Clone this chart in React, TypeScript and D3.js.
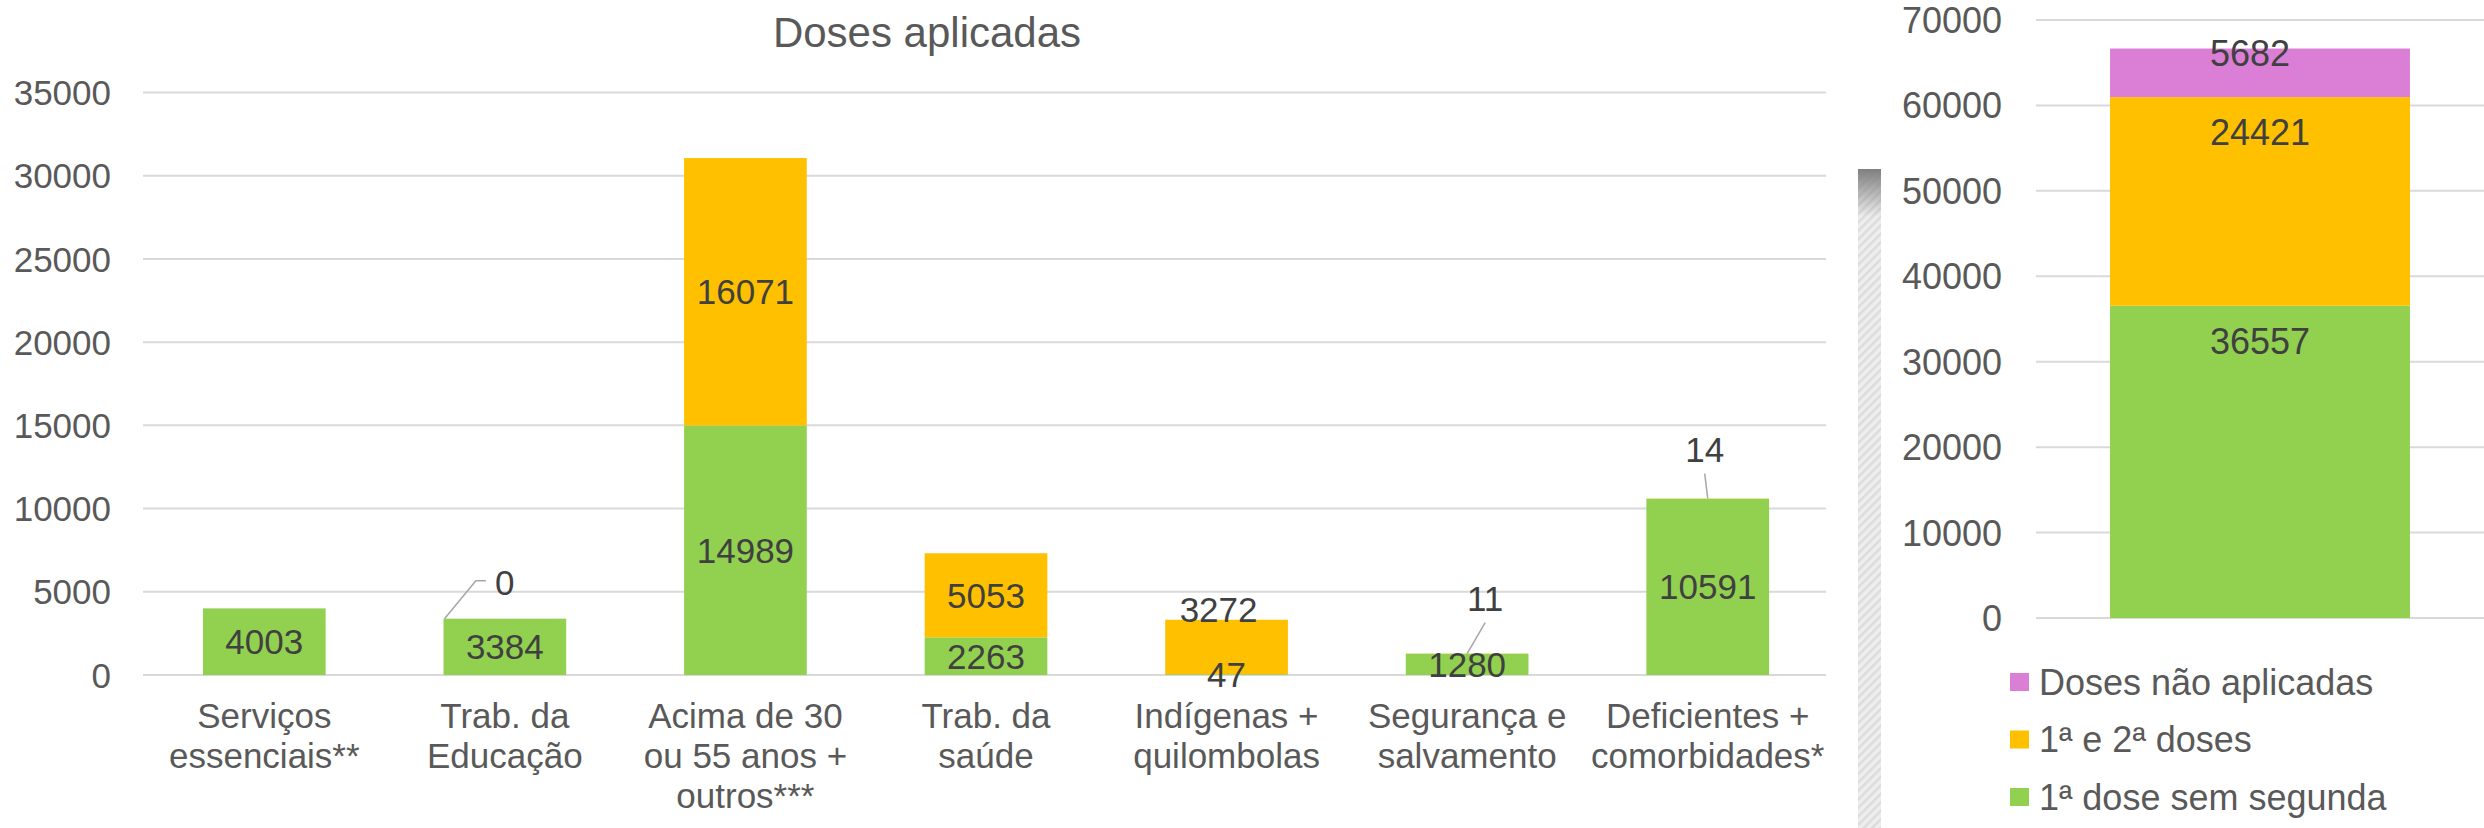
import React, { useEffect, useRef } from 'react';
import * as d3 from 'd3';

// left chart: doses per group
const categories = [
  "Serviços\nessenciais**",
  "Trab. da\nEducação",
  "Acima de 30\nou 55 anos +\noutros***",
  "Trab. da\nsaúde",
  "Indígenas +\nquilombolas",
  "Segurança e\nsalvamento",
  "Deficientes +\ncomorbidades*",
];
const firstDoseOnly = [4003, 3384, 14989, 2263, 47, 1280, 10591];
const bothDoses: (number | null)[] = [null, 0, 16071, 5053, 3272, 11, 14];
const leftTicks = [0, 5000, 10000, 15000, 20000, 25000, 30000, 35000];

// right chart: totals
const totalSeries = ["1ª dose sem segunda", "1ª e 2ª doses", "Doses não aplicadas"];
const totalValues = [36557, 24421, 5682];
const rightTicks = [0, 10000, 20000, 30000, 40000, 50000, 60000, 70000];

const GREEN = "#92D050";
const YELLOW = "#FFC000";
const PINK = "#DA7FD5";
const GRID = "#D9D9D9";
const AXIS_TEXT = "#595959";
const LABEL_TEXT = "#404040";
const FONT = "'Liberation Sans', Arial, sans-serif";

// manually moved labels of the "1ª e 2ª doses" series (px from bar centre / stack top)
const yellowCallouts: Record<number, { dx: number; dy: number; leader?: "left" | "center" }> = {
  1: { dx: 0, dy: -36, leader: "left" },
  4: { dx: -8, dy: -10 },
  5: { dx: 18, dy: -55, leader: "center" },
  6: { dx: -3, dy: -49, leader: "center" },
};

const App: React.FC = () => {
  const ref = useRef<SVGSVGElement | null>(null);

  useEffect(() => {
    if (ref.current) draw();
  }, []);

  const draw = () => {
    const svg = d3.select(ref.current);
    svg.selectAll("*").remove();
    svg.attr("font-family", FONT);

    const defs = svg.append("defs");
    const hatch = defs.append("pattern")
      .attr("id", "hatch")
      .attr("patternUnits", "userSpaceOnUse")
      .attr("width", 6)
      .attr("height", 6)
      .attr("patternTransform", "rotate(-45)");
    hatch.append("rect").attr("width", 6).attr("height", 6).attr("fill", "#eeeeee");
    hatch.append("rect").attr("width", 6).attr("height", 2.5).attr("fill", "#dcdcdc");
    const grad = defs.append("linearGradient")
      .attr("id", "stripFade")
      .attr("x1", 0).attr("y1", 0).attr("x2", 0).attr("y2", 1);
    grad.append("stop").attr("offset", "0%").attr("stop-color", "#7f7f7f").attr("stop-opacity", 1);
    grad.append("stop").attr("offset", "100%").attr("stop-color", "#7f7f7f").attr("stop-opacity", 0);

    svg.append("rect").attr("width", 2484).attr("height", 828).attr("fill", "#ffffff");

    // ---------- left chart ----------
    const x = d3.scaleBand()
      .domain(categories)
      .range([144, 1828])
      .paddingInner(0.49)
      .paddingOuter(0.245);
    const y = d3.scaleLinear().domain([0, 35000]).range([675, 92.5]);

    const left = svg.append("g");

    left.append("g")
      .selectAll("line")
      .data(leftTicks)
      .join("line")
      .attr("x1", 143)
      .attr("x2", 1826)
      .attr("y1", d => y(d))
      .attr("y2", d => y(d))
      .attr("stroke", GRID)
      .attr("stroke-width", 2);

    left.append("g")
      .selectAll("text")
      .data(leftTicks)
      .join("text")
      .attr("x", 111)
      .attr("y", d => y(d))
      .attr("dy", "0.36em")
      .attr("text-anchor", "end")
      .attr("font-size", 35)
      .attr("fill", AXIS_TEXT)
      .text(d => String(d));

    left.append("text")
      .attr("x", 927)
      .attr("y", 47)
      .attr("text-anchor", "middle")
      .attr("font-size", 42)
      .attr("fill", AXIS_TEXT)
      .text("Doses aplicadas");

    const bw = x.bandwidth();

    left.append("g")
      .selectAll("rect")
      .data(categories)
      .join("rect")
      .attr("x", d => x(d) || 0)
      .attr("width", bw)
      .attr("y", (d, i) => y(firstDoseOnly[i]))
      .attr("height", (d, i) => y(0) - y(firstDoseOnly[i]))
      .attr("fill", GREEN);

    left.append("g")
      .selectAll("rect")
      .data(categories)
      .join("rect")
      .attr("x", d => x(d) || 0)
      .attr("width", bw)
      .attr("y", (d, i) => y(firstDoseOnly[i] + (bothDoses[i] || 0)))
      .attr("height", (d, i) => y(firstDoseOnly[i]) - y(firstDoseOnly[i] + (bothDoses[i] || 0)))
      .attr("fill", YELLOW);

    // green labels, centred in segment
    left.append("g")
      .selectAll("text")
      .data(categories)
      .join("text")
      .attr("x", d => (x(d) || 0) + bw / 2)
      .attr("y", (d, i) => y(firstDoseOnly[i] / 2))
      .attr("dy", "0.36em")
      .attr("text-anchor", "middle")
      .attr("font-size", 35)
      .attr("fill", LABEL_TEXT)
      .text((d, i) => String(firstDoseOnly[i]));

    // yellow labels
    const yl = left.append("g");
    categories.forEach((c, i) => {
      const v = bothDoses[i];
      if (v === null) return;
      const cx = (x(c) || 0) + bw / 2;
      const top = y(firstDoseOnly[i] + v);
      const co = yellowCallouts[i];
      let lx = cx;
      let ly = y(firstDoseOnly[i] + v / 2);
      if (co) {
        lx = cx + co.dx;
        ly = top + co.dy;
        if (co.leader === "left") {
          const x0 = (x(c) || 0) + 1;
          yl.append("polyline")
            .attr("points", `${x0},${top} ${lx - 29},${ly - 2} ${lx - 19},${ly - 2}`)
            .attr("fill", "none")
            .attr("stroke", "#A6A6A6")
            .attr("stroke-width", 1.5);
        } else if (co.leader === "center") {
          yl.append("line")
            .attr("x1", cx)
            .attr("y1", top)
            .attr("x2", lx)
            .attr("y2", ly + 24)
            .attr("stroke", "#A6A6A6")
            .attr("stroke-width", 1.5);
        }
      }
      yl.append("text")
        .attr("x", lx)
        .attr("y", ly)
        .attr("dy", "0.36em")
        .attr("text-anchor", "middle")
        .attr("font-size", 35)
        .attr("fill", LABEL_TEXT)
        .text(String(v));
    });

    // category labels
    const cl = left.append("g")
      .attr("font-size", 35)
      .attr("fill", AXIS_TEXT)
      .attr("text-anchor", "middle");
    categories.forEach(c => {
      const t = cl.append("text").attr("x", (x(c) || 0) + bw / 2).attr("y", 728);
      c.split("\n").forEach((line, k) => {
        t.append("tspan")
          .attr("x", (x(c) || 0) + bw / 2)
          .attr("dy", k === 0 ? 0 : 40)
          .text(line);
      });
    });

    // ---------- separator strip ----------
    svg.append("rect").attr("x", 1858).attr("y", 169).attr("width", 23).attr("height", 659).attr("fill", "url(#hatch)");
    svg.append("rect").attr("x", 1858).attr("y", 169).attr("width", 23).attr("height", 48).attr("fill", "url(#stripFade)");

    // ---------- right chart ----------
    const xr = d3.scaleBand().domain(["Total"]).range([2036, 2484]).padding(0.198);
    const yr = d3.scaleLinear().domain([0, 70000]).range([618, 20]);
    const right = svg.append("g");

    right.append("g")
      .selectAll("line")
      .data(rightTicks)
      .join("line")
      .attr("x1", 2036)
      .attr("x2", 2484)
      .attr("y1", d => yr(d))
      .attr("y2", d => yr(d))
      .attr("stroke", GRID)
      .attr("stroke-width", 2);

    right.append("g")
      .selectAll("text")
      .data(rightTicks)
      .join("text")
      .attr("x", 2002)
      .attr("y", d => yr(d))
      .attr("dy", "0.36em")
      .attr("text-anchor", "end")
      .attr("font-size", 36)
      .attr("fill", AXIS_TEXT)
      .text(d => String(d));

    const stack = d3.stack<number[]>()
      .keys(totalSeries.map((s, i) => String(i)))
      .value((row, key) => row[+key]);
    const layers = stack([totalValues]);
    const colors = [GREEN, YELLOW, PINK];
    const rbx = xr("Total") || 0;
    const rbw = xr.bandwidth();

    right.append("g")
      .selectAll("rect")
      .data(layers)
      .join("rect")
      .attr("x", rbx)
      .attr("width", rbw)
      .attr("y", d => yr(d[0][1]))
      .attr("height", d => yr(d[0][0]) - yr(d[0][1]))
      .attr("fill", (d, i) => colors[i]);

    // labels at inside end; the small top one sits higher
    right.append("g")
      .selectAll("text")
      .data(layers)
      .join("text")
      .attr("x", (d, i) => rbx + rbw / 2 + (i === 2 ? -10 : 0))
      .attr("y", (d, i) => yr(d[0][1]) + (i === 2 ? 4.5 : 35))
      .attr("dy", "0.36em")
      .attr("text-anchor", "middle")
      .attr("font-size", 36)
      .attr("fill", LABEL_TEXT)
      .text((d, i) => String(totalValues[i]));

    // legend, top to bottom reversed order
    const legendOrder = [2, 1, 0];
    const lg = right.append("g")
      .selectAll("g")
      .data(legendOrder)
      .join("g")
      .attr("transform", (d, k) => `translate(2010,${682 + k * 57.5})`);
    lg.append("rect")
      .attr("x", 0)
      .attr("y", -9)
      .attr("width", 19)
      .attr("height", 18)
      .attr("fill", d => colors[d]);
    lg.append("text")
      .attr("x", 29)
      .attr("y", 0)
      .attr("dy", "0.36em")
      .attr("font-size", 36)
      .attr("fill", AXIS_TEXT)
      .text(d => totalSeries[d]);
  };

  return (
    <svg
      ref={ref}
      width={2484}
      height={828}
      style={{ position: 'absolute', left: 0, top: 0, display: 'block' }}
    />
  );
};

export default App;
